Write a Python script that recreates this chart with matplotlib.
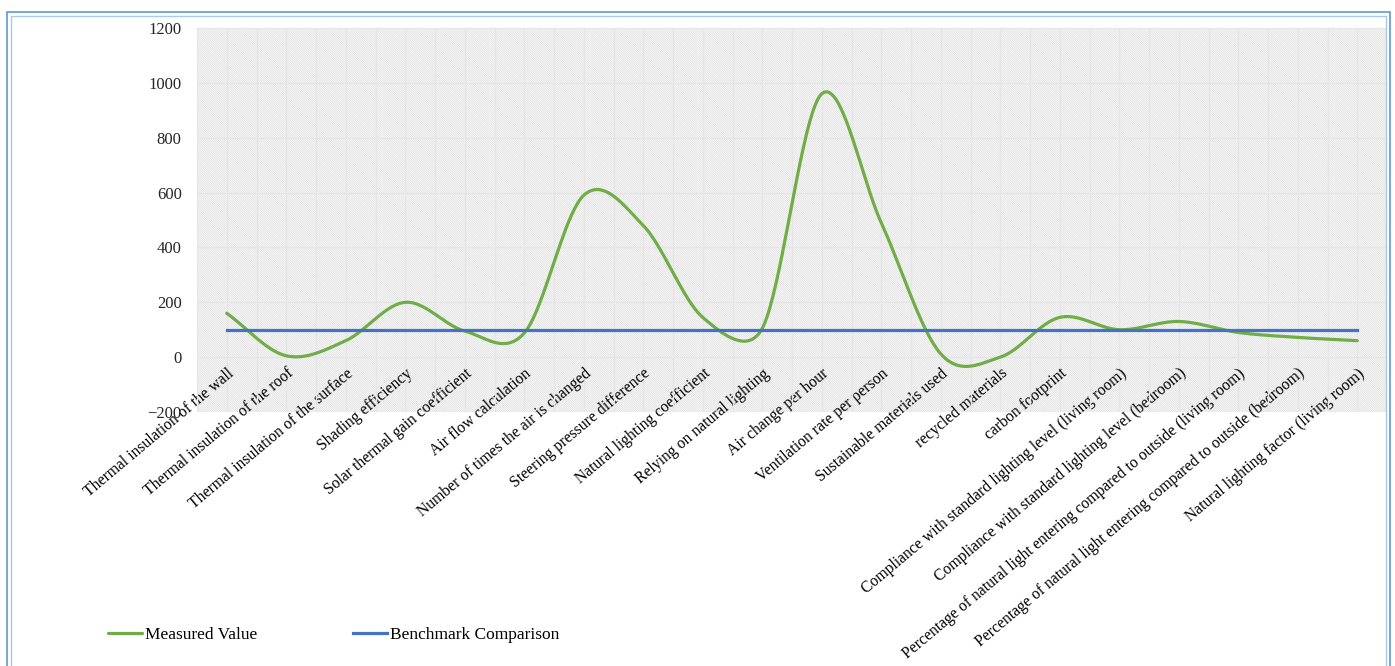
import numpy as np
import matplotlib
matplotlib.use("Agg")
import matplotlib.pyplot as plt
from matplotlib.patches import Rectangle
from matplotlib.ticker import MultipleLocator

plt.rcParams['font.family'] = ['Liberation Serif', 'DejaVu Serif']
plt.rcParams['hatch.linewidth'] = 0.35

categories = [
    "Thermal insulation of the wall",
    "Thermal insulation of the roof",
    "Thermal insulation of the surface",
    "Shading efficiency",
    "Solar thermal gain coefficient",
    "Air flow calculation",
    "Number of times the air is changed",
    "Steering pressure difference",
    "Natural lighting coefficient",
    "Relying on natural lighting",
    "Air change per hour",
    "Ventilation rate per person",
    "Sustainable materials used",
    "recycled materials",
    "carbon footprint",
    "Compliance with standard lighting level (living room)",
    "Compliance with standard lighting level (bedroom)",
    "Percentage of natural light entering compared to outside (living room)",
    "Percentage of natural light entering compared to outside (bedroom)",
    "Natural lighting factor (living room)",
]
measured = [160, 5, 60, 200, 95, 88, 590, 480, 145, 105,
            960, 490, 12, 0, 145, 100, 130, 90, 72, 60]
benchmark = [100] * len(categories)
y_ticks = [-200, 0, 200, 400, 600, 800, 1000, 1200]


def smooth(xs, ys, kx, ky, n=40):
    # excel style smoothed line: bezier segments, control arms limited
    # to half the segment length (distances measured in pixels)
    P = np.column_stack([np.asarray(xs, float) * kx, np.asarray(ys, float) * ky])
    t = np.linspace(0, 1, n)[:, None]
    out = []
    for i in range(len(P) - 1):
        p1, p2 = P[i], P[i + 1]
        p0 = P[i - 1] if i > 0 else p1
        p3 = P[i + 2] if i + 2 < len(P) else p2
        d12 = np.hypot(*(p2 - p1))
        d02 = np.hypot(*(p2 - p0))
        d13 = np.hypot(*(p3 - p1))
        f1 = 1 / 6 if i > 0 else 1 / 3
        f2 = 1 / 6 if i + 2 < len(P) else 1 / 3
        if d02 * f1 >= d12 / 2:
            f1 = d12 / (2 * d02)
        if d13 * f2 >= d12 / 2:
            f2 = d12 / (2 * d13)
        b1 = p1 + (p2 - p0) * f1
        b2 = p2 - (p3 - p1) * f2
        seg = (1 - t) ** 3 * p1 + 3 * (1 - t) ** 2 * t * b1 + 3 * (1 - t) * t ** 2 * b2 + t ** 3 * p2
        out.append(seg)
    out = np.vstack(out)
    return out[:, 0] / kx, out[:, 1] / ky


fig = plt.figure(figsize=(13.95, 6.66), dpi=100)
W, H = 1395, 666
# chart border
fig.patches.append(Rectangle((7 / W, -0.1), 1383 / W, (666 - 12) / H + 0.1, transform=fig.transFigure,
                             fill=False, edgecolor='#5b9bd5', lw=1.2))
fig.patches.append(Rectangle((11 / W, -0.1), 1375 / W, (666 - 16) / H + 0.1, transform=fig.transFigure,
                             fill=False, edgecolor='#a9c8ea', lw=1.0))

ax = fig.add_axes([197 / W, 1 - 412 / H, 1190 / W, 384 / H])
# axis line crosses at 0 (do this first, it resets the ticks)
ax.spines['bottom'].set_position(('data', 0))
ax.spines['bottom'].set_visible(False)
for s in ['top', 'right', 'left']:
    ax.spines[s].set_visible(False)

ax.add_patch(Rectangle((0, 0), 1, 1, transform=ax.transAxes, facecolor='white',
                       edgecolor='#d0d0d0', lw=0, hatch='\\' * 18, zorder=0))

x = np.arange(len(categories))
sx, sy = smooth(x, measured, 1190 / len(categories), 384 / 1400)
ax.plot(sx, sy, color='#70ad47', lw=2.3, label='Measured Value', zorder=3,
        solid_capstyle='round')
ax.plot(x, benchmark, color='#4472c4', lw=2.3, label='Benchmark Comparison', zorder=3)

ax.set_xlim(-0.5, len(categories) - 0.5)
ax.set_ylim(-200, 1200)
ax.set_yticks(y_ticks)
ax.set_xticks(x)
ax.set_xticklabels(categories, rotation=40, ha='right', va='top', rotation_mode='anchor', fontsize=11.3)
ax.xaxis.set_minor_locator(MultipleLocator(0.5))
ax.tick_params(axis='y', length=0, pad=11, labelsize=12)
ax.tick_params(axis='x', which='both', length=0, pad=6)
ax.grid(True, which='both', axis='x', color='#e6e6e6', lw=1, zorder=1)
ax.grid(True, which='major', axis='y', color='#e6e6e6', lw=1, zorder=1)
ax.set_axisbelow(True)
for lbl in ax.get_yticklabels():
    lbl.set_color('#262626')

fig.legend(loc='center left', bbox_to_anchor=(92 / W, 1 - 635 / H), ncol=2, frameon=False,
           fontsize=12.5, handlelength=2.0, handletextpad=0.15, columnspacing=5.5)

fig.savefig('out.png', dpi=100)
